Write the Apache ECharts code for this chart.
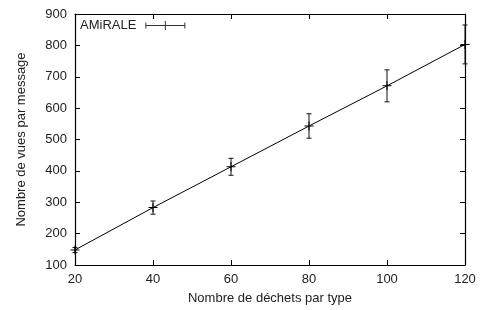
<!DOCTYPE html>
<html>
<head>
<meta charset="utf-8">
<script src="https://cdn.jsdelivr.net/npm/echarts@6/dist/echarts.min.js"></script>
<style>
  html, body { margin: 0; padding: 0; background: #fff; }
  #chart { width: 482px; height: 310px; }
</style>
</head>
<body>
<div id="chart"></div>
<script>
// data
var wasteCounts = [20, 40, 60, 80, 100, 120];
var viewsPerMsg = [148, 283, 413, 543, 671, 803];
var viewsErr = [8, 21, 27, 39, 51, 62];
var seriesName = 'AMiRALE';

var myChart = echarts.init(document.querySelector('#chart'));

var points = wasteCounts.map(function (x, i) { return [x, viewsPerMsg[i]]; });
var bars = wasteCounts.map(function (x, i) {
  return [x, viewsPerMsg[i] - viewsErr[i], viewsPerMsg[i] + viewsErr[i]];
});

var plusIcon = 'path://M0,4h9v1H0z M4,0h1v9H4z';
var legendIcon = 'path://M0,4h40v1H0z M0,1.5h1v6H0z M39,1.5h1v6h-1z M19.5,0h1v9h-1z M15,4h10v1H15z';

var txt = { color: '#222', fontFamily: 'Liberation Sans, Arial, sans-serif', fontSize: 13 };

option = {
  animation: false,
  grid: { left: 75, right: 17, top: 14, bottom: 44 },
  legend: {
    left: 75,
    top: 14,
    align: 'right',
    itemWidth: 40,
    itemHeight: 9,
    data: [{ name: seriesName, icon: legendIcon }],
    itemStyle: { color: '#333' },
    textStyle: Object.assign({ padding: [0, 4, 0, 0] }, txt)
  },
  xAxis: [
    {
      type: 'value', min: 20, max: 120, interval: 20,
      name: 'Nombre de déchets par type',
      nameLocation: 'middle', nameGap: 27,
      nameTextStyle: txt,
      axisLine: { lineStyle: { color: '#000', width: 1.2 } },
      axisTick: { inside: true, length: 5, lineStyle: { color: '#000' } },
      axisLabel: Object.assign({ margin: 8 }, txt),
      splitLine: { show: false }
    },
    {
      type: 'value', min: 20, max: 120, interval: 20, position: 'top',
      axisLine: { lineStyle: { color: '#000', width: 1.2 } },
      axisTick: { inside: true, length: 5, lineStyle: { color: '#000' } },
      axisLabel: { show: false },
      splitLine: { show: false }
    }
  ],
  yAxis: [
    {
      type: 'value', min: 100, max: 900, interval: 100,
      name: 'Nombre de vues par message',
      nameLocation: 'middle', nameGap: 47,
      nameTextStyle: txt,
      axisLine: { show: true, lineStyle: { color: '#000', width: 1.2 } },
      axisTick: { show: true, inside: true, length: 5, lineStyle: { color: '#000' } },
      axisLabel: Object.assign({ margin: 8 }, txt),
      splitLine: { show: false }
    },
    {
      type: 'value', min: 100, max: 900, interval: 100, position: 'right',
      axisLine: { show: true, lineStyle: { color: '#000', width: 1.2 } },
      axisTick: { show: true, inside: true, length: 5, lineStyle: { color: '#000' } },
      axisLabel: { show: false },
      splitLine: { show: false }
    }
  ],
  series: [
    {
      name: seriesName,
      type: 'line',
      data: points,
      symbol: plusIcon,
      symbolSize: 9,
      showAllSymbol: true,
      clip: false,
      itemStyle: { color: '#000' },
      lineStyle: { color: '#000', width: 1 },
      z: 3
    },
    {
      name: seriesName,
      type: 'custom',
      data: bars,
      clip: false,
      renderItem: function (params, api) {
        var lo = api.coord([api.value(0), api.value(1)]);
        var hi = api.coord([api.value(0), api.value(2)]);
        var w = 2.5;
        var st = { stroke: '#111', lineWidth: 1 };
        return {
          type: 'group',
          children: [
            { type: 'line', shape: { x1: lo[0], y1: lo[1], x2: hi[0], y2: hi[1] }, style: st },
            { type: 'line', shape: { x1: lo[0] - w, y1: lo[1], x2: lo[0] + w, y2: lo[1] }, style: st },
            { type: 'line', shape: { x1: hi[0] - w, y1: hi[1], x2: hi[0] + w, y2: hi[1] }, style: st }
          ]
        };
      },
      encode: { x: 0, y: [1, 2] },
      z: 2
    }
  ]
};

myChart.setOption(option);
</script>
</body>
</html>
